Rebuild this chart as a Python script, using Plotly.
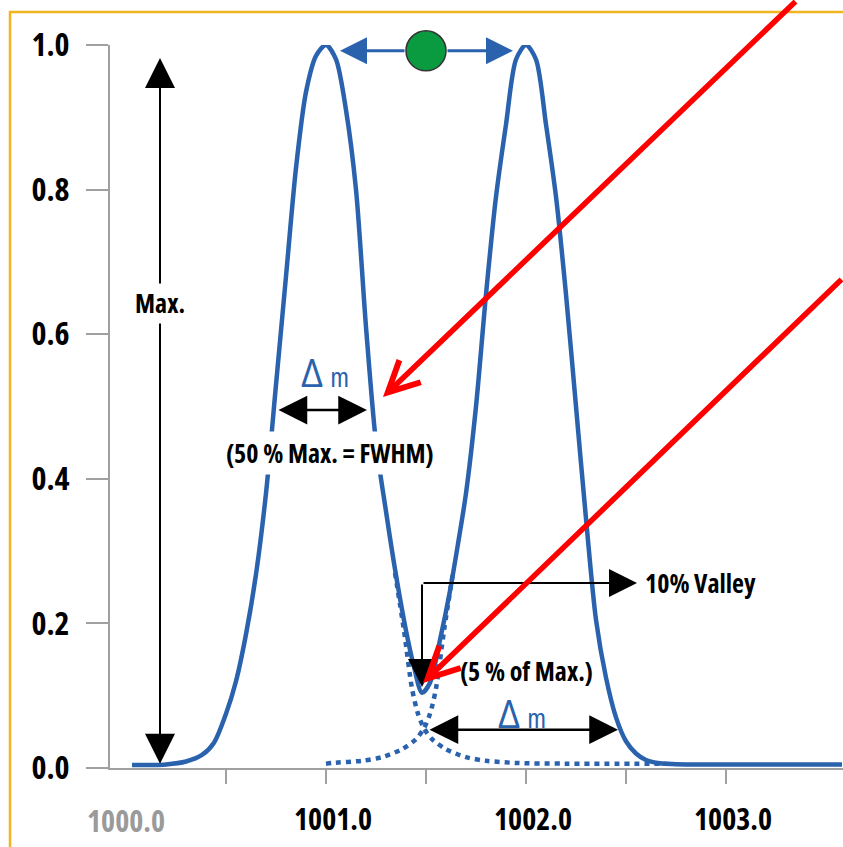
import plotly.graph_objects as go

# ---------------- data ----------------
# summed signal (solid blue line)
sum_mz = [1000.03, 1000.20, 1000.30, 1000.38, 1000.44, 1000.50, 1000.55, 1000.60, 1000.65,
          1000.70, 1000.75, 1000.80, 1000.85, 1000.90, 1000.95, 1001.00, 1001.05, 1001.10,
          1001.15, 1001.20, 1001.25, 1001.30, 1001.345, 1001.40, 1001.44, 1001.48, 1001.52,
          1001.57, 1001.62, 1001.66, 1001.70, 1001.75, 1001.80, 1001.85, 1001.90, 1001.95,
          1002.00, 1002.05, 1002.10, 1002.15, 1002.20, 1002.25, 1002.30, 1002.35, 1002.40,
          1002.45, 1002.50, 1002.55, 1002.60, 1002.66, 1002.80, 1003.20, 1003.58]
sum_int = [0.004, 0.005, 0.009, 0.018, 0.035, 0.075, 0.120, 0.185, 0.268,
           0.380, 0.530, 0.680, 0.830, 0.935, 0.985, 1.000, 0.980, 0.910,
           0.800, 0.610, 0.450, 0.355, 0.275, 0.190, 0.140, 0.104, 0.118,
           0.177, 0.245, 0.310, 0.380, 0.500, 0.655, 0.790, 0.890, 0.980,
           1.000, 0.980, 0.890, 0.790, 0.655, 0.500, 0.345, 0.205, 0.125,
           0.070, 0.037, 0.020, 0.011, 0.007, 0.005, 0.005, 0.005]

# tail of the left peak (dotted)
left_tail_mz = [1001.345, 1001.39, 1001.43, 1001.46, 1001.49, 1001.53, 1001.60, 1001.70,
                1001.80, 1001.95, 1002.20, 1002.70]
left_tail_int = [0.270, 0.190, 0.110, 0.075, 0.055, 0.040, 0.026, 0.015,
                 0.010, 0.007, 0.006, 0.006]
# tail of the right peak (dotted)
right_tail_mz = [1001.00, 1001.03, 1001.18, 1001.28, 1001.38, 1001.45, 1001.49, 1001.52,
                 1001.55, 1001.59, 1001.635]
right_tail_int = [0.006, 0.007, 0.010, 0.015, 0.026, 0.040, 0.055, 0.075,
                  0.110, 0.190, 0.270]

# midpoint between the two peaks (green marker)
mid_mz = [1001.5]
mid_int = [0.992]

y_ticks = [0.0, 0.2, 0.4, 0.6, 0.8, 1.0]
y_tick_text = ["0.0", "0.2", "0.4", "0.6", "0.8", "1.0"]
x_ticks = [1000.5, 1001.0, 1001.5, 1002.0, 1002.5, 1003.0]
x_tick_text = ["", "1001.0", "", "1002.0", "", "1003.0"]
first_x_label = "1000.0"

# ---------------- styling ----------------
FONT = "Open Sans"
BLUE = "#2a62ad"
AXIS = "#a0a0a0"


def cond(s):
    return '<span style="font-stretch:condensed">' + s + '</span>' if s else s


fig = go.Figure()

fig.add_trace(go.Scatter(x=left_tail_mz, y=left_tail_int, mode="lines",
                         line=dict(color=BLUE, width=4.5, dash="5px,5px", shape="spline", smoothing=0.8),
                         cliponaxis=False, hoverinfo="skip", showlegend=False))
fig.add_trace(go.Scatter(x=right_tail_mz, y=right_tail_int, mode="lines",
                         line=dict(color=BLUE, width=4.5, dash="5px,5px", shape="spline", smoothing=0.8),
                         cliponaxis=False, hoverinfo="skip", showlegend=False))
fig.add_trace(go.Scatter(x=sum_mz, y=sum_int, mode="lines",
                         line=dict(color=BLUE, width=4.5, shape="spline", smoothing=0.8),
                         cliponaxis=False, hoverinfo="skip", showlegend=False))

txt = dict(family=FONT, size=26, color="black", weight="bold")
blue_txt = dict(family=FONT, size=28, color=BLUE)
tickfx = dict(family=FONT, size=30, color="black", weight="bold")
tickfy = dict(family=FONT, size=32, color="black", weight="bold")


def arrow(x, y, ax, ay, color="black", head=2, width=2, size=3.0, both=False):
    d = dict(x=x, y=y, ax=ax, ay=ay, axref="x", ayref="y", text="", showarrow=True,
             arrowhead=head, arrowwidth=width, arrowsize=size, arrowcolor=color)
    if both:
        d.update(arrowside="end+start", startarrowhead=head, startarrowsize=size)
    return d


def label(x, y, s, font, xanchor="center", **kw):
    return dict(x=x, y=y, text=cond(s), showarrow=False, font=font,
                xanchor=xanchor, yanchor="middle", **kw)


DELTA_M = '<span style="font-size:38px">Δ</span> ' + cond("m")

ann = []
# Max. vertical double arrow
ann.append(label(1000.17, 0.643, "Max.", txt))
ann.append(arrow(1000.17, 0.982, 1000.17, 0.668, size=3.0))
ann.append(arrow(1000.17, 0.006, 1000.17, 0.617, size=3.0))
# FWHM
ann.append(arrow(1001.205, 0.495, 1000.755, 0.495, width=2.5, size=2.3, both=True))
ann.append(label(1001.02, 0.436, "(50 % Max. = FWHM)", txt, bgcolor="white", borderpad=3))
ann.append(dict(x=1000.995, y=0.548, text=DELTA_M, showarrow=False, font=blue_txt,
                xanchor="center", yanchor="middle"))
# peak-to-peak arrows from the green marker
ann.append(arrow(1001.07, 0.992, 1001.40, 0.992, color=BLUE, width=3, size=1.8))
ann.append(arrow(1001.935, 0.992, 1001.60, 0.992, color=BLUE, width=3, size=1.8))
# 10 % valley
ann.append(arrow(1001.48, 0.112, 1001.48, 0.256, size=2.8))
ann.append(arrow(1002.555, 0.256, 1001.48, 0.256, size=2.8))
ann.append(label(1002.585, 0.256, "10% Valley", txt, xanchor="left"))
ann.append(label(1002.0, 0.134, "(5 % of Max.)", txt))
# second Δm
ann.append(dict(x=1001.98, y=0.076, text=DELTA_M, showarrow=False, font=blue_txt,
                xanchor="center", yanchor="middle"))
ann.append(arrow(1002.46, 0.053, 1001.51, 0.053, width=2.5, size=2.3, both=True))
# grey first tick label
ann.append(dict(x=1000.0, y=-0.072, yref="paper", text=cond(first_x_label), showarrow=False,
                xanchor="center", yanchor="middle",
                font=dict(family=FONT, size=30, color="#9a9a9a", weight="bold")))
# red pointer arrows
ann.append(dict(x=1001.285, y=0.513, ax=414, ay=-397, text="", showarrow=True,
                arrowhead=5, arrowwidth=5.5, arrowsize=1.1, arrowcolor="#ff0000"))
ann.append(dict(x=1001.485, y=0.1176, ax=420, ay=-405, text="", showarrow=True,
                arrowhead=5, arrowwidth=5.5, arrowsize=1.1, arrowcolor="#ff0000"))

fig.add_trace(go.Scatter(x=mid_mz, y=mid_int, mode="markers",
                         marker=dict(size=40, color="#0a9b40", line=dict(color="#333333", width=1.5)),
                         cliponaxis=False, hoverinfo="skip", showlegend=False))

fig.update_layout(
    width=843, height=847,
    margin=dict(l=110, r=0, t=45, b=79),
    paper_bgcolor="white", plot_bgcolor="white",
    annotations=ann,
    shapes=[dict(type="rect", xref="paper", yref="paper",
                 x0=-0.1364, y0=-0.15, x1=1.05, y1=1.0456,
                 line=dict(color="#f2b41f", width=2.5))],
    xaxis=dict(range=[999.92, 1003.585], showline=True, linecolor=AXIS, linewidth=2,
               ticks="outside", ticklen=14, tickwidth=2, tickcolor=AXIS,
               tickvals=x_ticks, ticktext=[cond(t) for t in x_tick_text],
               showgrid=False, zeroline=False,
               tickfont=tickfx, ticklabelstandoff=10, ticklabelshift=7),
    yaxis=dict(range=[0, 1.0], showline=True, linecolor=AXIS, linewidth=2,
               ticks="outside", ticklen=22, tickwidth=2, tickcolor=AXIS,
               tickvals=y_ticks, ticktext=[cond(t) for t in y_tick_text],
               showgrid=False, zeroline=False,
               tickfont=tickfy, ticklabelstandoff=10),
)

fig.write_html("out.html")
